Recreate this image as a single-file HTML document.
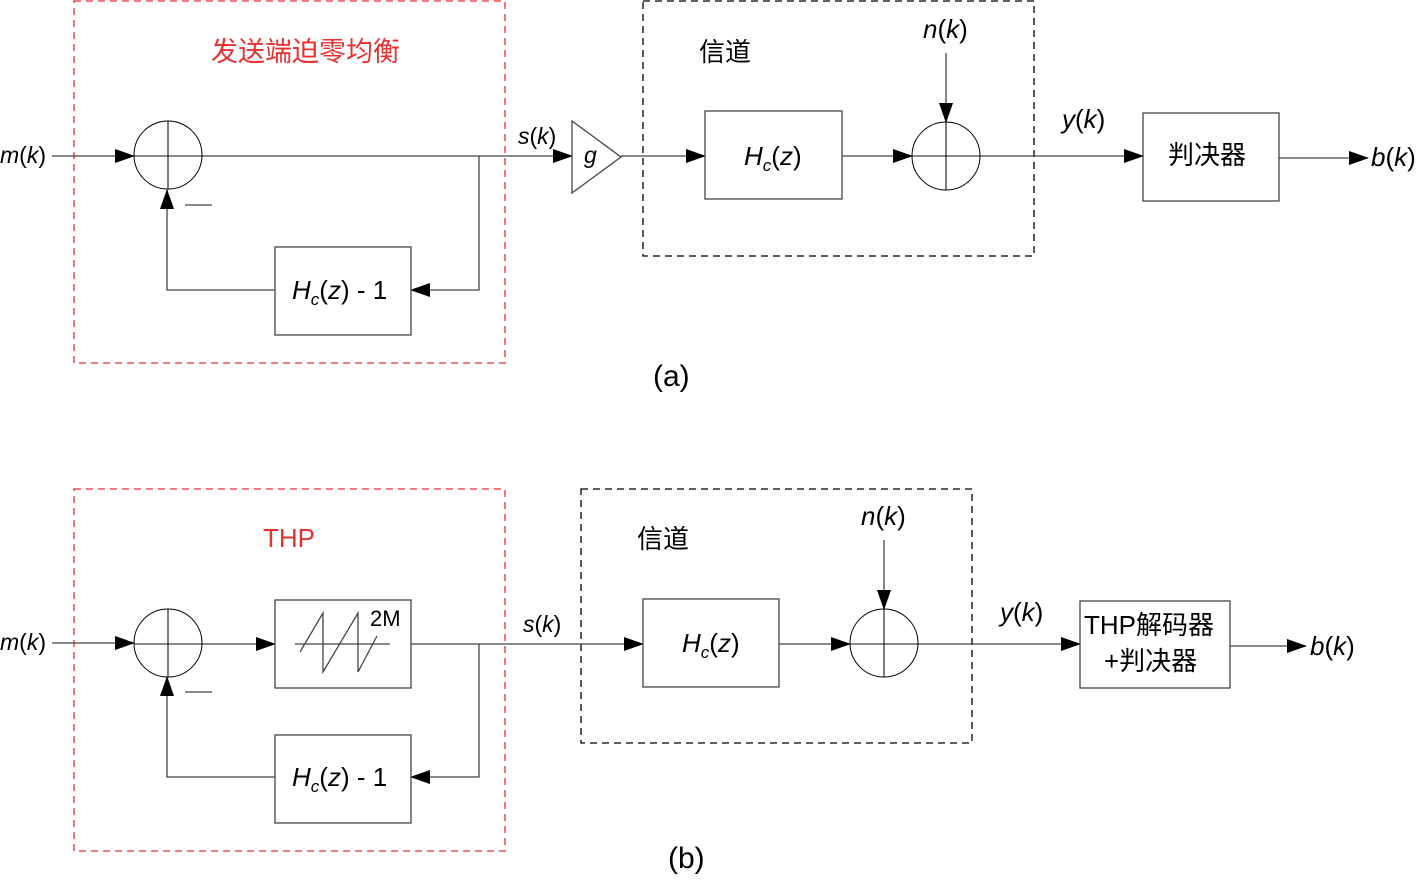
<!DOCTYPE html>
<html><head><meta charset="utf-8"><style>
html,body{margin:0;padding:0;background:#fff;}
svg text{font-family:"Liberation Sans","Noto Sans CJK SC",sans-serif;}
.i{font-style:italic;}
.n{font-style:normal;}
</style></head><body>
<svg width="1420" height="878" viewBox="0 0 1420 878" xmlns="http://www.w3.org/2000/svg">
<defs>
<marker id="a" markerWidth="20" markerHeight="14" refX="19" refY="7" orient="auto" markerUnits="userSpaceOnUse">
<path d="M0,0 L20,7 L0,14 z" fill="#000"/></marker>
</defs>
<g fill="none" stroke-width="1.3">
<rect x="74" y="1" width="431" height="362" stroke="#e83030" stroke-dasharray="7,5"/>
<rect x="643" y="1" width="391" height="255" stroke="#000" stroke-dasharray="7,5"/>
<g stroke="#444">
<line x1="52" y1="156" x2="134" y2="156" marker-end="url(#a)"/>
<line x1="134" y1="156" x2="572" y2="156" marker-end="url(#a)"/>
<polyline points="479,156 479,290 411,290" marker-end="url(#a)"/>
<polyline points="275,290 167,290 167,190" marker-end="url(#a)"/>
<line x1="621" y1="156" x2="705" y2="156" marker-end="url(#a)"/>
<line x1="842" y1="156" x2="912" y2="156" marker-end="url(#a)"/>
<line x1="946" y1="53" x2="946" y2="122" marker-end="url(#a)"/>
<line x1="912" y1="156" x2="1143" y2="156" marker-end="url(#a)"/>
<line x1="1279" y1="158" x2="1368" y2="158" marker-end="url(#a)"/>
<line x1="185" y1="205" x2="212" y2="205"/>
<rect x="275" y="247" width="136" height="88"/>
<polygon points="572,121 621,157 572,193"/>
<rect x="705" y="111" width="137" height="88"/>
<rect x="1143" y="113" width="136" height="88"/>
</g>
<g stroke="#000" stroke-width="1">
<circle cx="168" cy="155" r="34"/><line x1="168" y1="121" x2="168" y2="189"/>
<circle cx="946" cy="156" r="34"/><line x1="946" y1="122" x2="946" y2="190"/>
</g>
<rect x="74" y="489" width="431" height="362" stroke="#e83030" stroke-dasharray="7,5"/>
<rect x="581" y="489" width="391" height="254" stroke="#000" stroke-dasharray="7,5"/>
<g stroke="#444">
<line x1="52" y1="643" x2="134" y2="643" marker-end="url(#a)"/>
<line x1="134" y1="644" x2="275" y2="644" marker-end="url(#a)"/>
<line x1="411" y1="644" x2="643" y2="644" marker-end="url(#a)"/>
<polyline points="479,644 479,777 411,777" marker-end="url(#a)"/>
<polyline points="275,777 167,777 167,677" marker-end="url(#a)"/>
<line x1="779" y1="644" x2="850" y2="644" marker-end="url(#a)"/>
<line x1="884" y1="540" x2="884" y2="609" marker-end="url(#a)"/>
<line x1="850" y1="644" x2="1080" y2="644" marker-end="url(#a)"/>
<line x1="1230" y1="646" x2="1306" y2="646" marker-end="url(#a)"/>
<line x1="185" y1="692" x2="212" y2="692"/>
<rect x="275" y="600" width="136" height="88"/>
<rect x="275" y="735" width="136" height="88"/>
<rect x="643" y="599" width="136" height="88"/>
<rect x="1080" y="601" width="150" height="87"/>
<line x1="295" y1="644" x2="390" y2="644"/>
<polyline points="300,652 323,613 323,672 358,613 358,672 377,636"/>
</g>
<g stroke="#000" stroke-width="1">
<circle cx="168" cy="643" r="34"/><line x1="168" y1="609" x2="168" y2="677"/>
<circle cx="884" cy="643" r="34"/><line x1="884" y1="609" x2="884" y2="677"/>
</g>
</g>
<g font-size="26" fill="#000">
<text x="0" y="163" class="i" font-size="23">m<tspan class="n">(</tspan>k<tspan class="n">)</tspan></text>
<text x="211" y="61" fill="#e83030" font-size="27">发送端迫零均衡</text>
<text x="699" y="61">信道</text>
<text x="518" y="144" class="i" font-size="23">s<tspan class="n">(</tspan>k<tspan class="n">)</tspan></text>
<text x="584" y="163" class="i" font-size="23">g</text>
<text x="292" y="299" class="i">H<tspan font-size="17" dy="6">c</tspan><tspan dy="-6" class="n">(</tspan>z<tspan class="n">) - 1</tspan></text>
<text x="744" y="165" class="i">H<tspan font-size="17" dy="6">c</tspan><tspan dy="-6" class="n">(</tspan>z<tspan class="n">)</tspan></text>
<text x="923" y="38" class="i">n<tspan class="n">(</tspan>k<tspan class="n">)</tspan></text>
<text x="1062" y="128" class="i">y<tspan class="n">(</tspan>k<tspan class="n">)</tspan></text>
<text x="1168" y="164">判决器</text>
<text x="1371" y="166" class="i">b<tspan class="n">(</tspan>k<tspan class="n">)</tspan></text>
<text x="653" y="386" font-size="30">(a)</text>

<text x="0" y="650" class="i" font-size="23">m<tspan class="n">(</tspan>k<tspan class="n">)</tspan></text>
<text x="263" y="547" fill="#e83030">THP</text>
<text x="637" y="548">信道</text>
<text x="523" y="632" class="i" font-size="23">s<tspan class="n">(</tspan>k<tspan class="n">)</tspan></text>
<text x="370" y="626" font-size="22">2M</text>
<text x="292" y="786" class="i">H<tspan font-size="17" dy="6">c</tspan><tspan dy="-6" class="n">(</tspan>z<tspan class="n">) - 1</tspan></text>
<text x="682" y="652" class="i">H<tspan font-size="17" dy="6">c</tspan><tspan dy="-6" class="n">(</tspan>z<tspan class="n">)</tspan></text>
<text x="861" y="525" class="i">n<tspan class="n">(</tspan>k<tspan class="n">)</tspan></text>
<text x="1000" y="621" class="i">y<tspan class="n">(</tspan>k<tspan class="n">)</tspan></text>
<text x="1084" y="634">THP解码器</text>
<text x="1104" y="670">+判决器</text>
<text x="1310" y="655" class="i">b<tspan class="n">(</tspan>k<tspan class="n">)</tspan></text>
<text x="668" y="868" font-size="30">(b)</text>
</g>
</svg>
</body></html>
